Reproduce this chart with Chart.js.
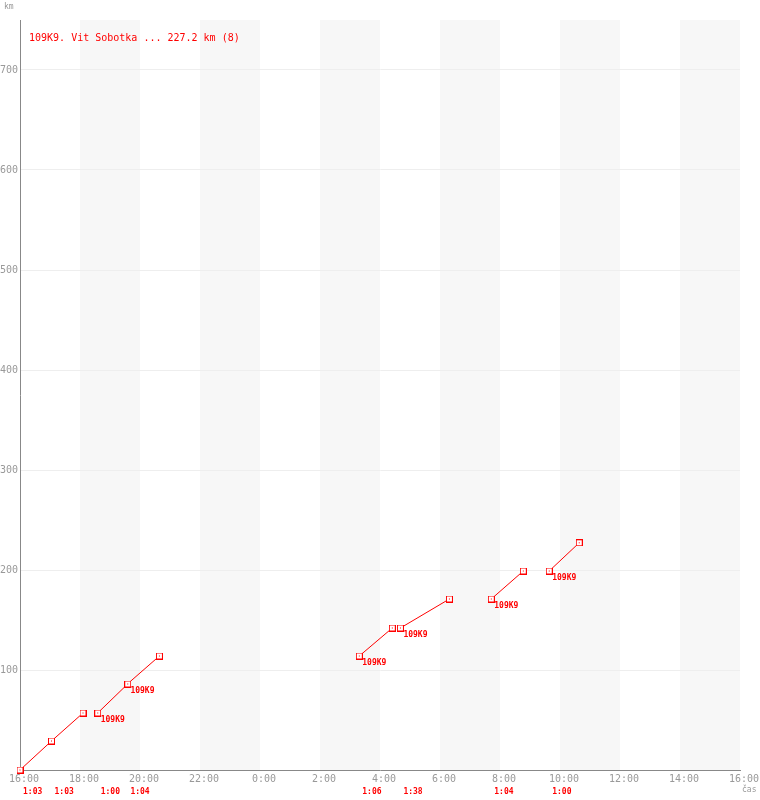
<!DOCTYPE html>
<html>
<head>
<meta charset="utf-8">
<script src="https://cdn.jsdelivr.net/npm/chart.js@4.4.1/dist/chart.umd.min.js"></script>
<style>
  html, body { margin: 0; padding: 0; background: #fff; }
  #wrap { width: 760px; height: 800px; }
</style>
</head>
<body>
<div id="wrap"><canvas id="chart" width="760" height="800"></canvas></div>
<script>
// ==================== DATA ====================
const teamCode = '109K9';
const teamName = 'Vit Sobotka';
const totalKm = '227.2';

// legs: start in hours after 16:00, duration, km at start / end
const legStart = [0, 1.05, 2.59, 3.58, 11.31, 12.68, 15.71, 17.64];
const legDuration = ['1:03', '1:03', '1:00', '1:04', '1:06', '1:38', '1:04', '1:00'];
const legKmFrom = [0, 29, 57, 86, 114, 142, 171, 199];
const legKmTo = [29, 57, 86, 114, 142, 171, 199, 227.2];
const legLabelled = [false, false, true, true, true, true, true, true];

const xTickHours = [0, 2, 4, 6, 8, 10, 12, 14, 16, 18, 20, 22, 24];
const xTickLabels = ['16:00', '18:00', '20:00', '22:00', '0:00', '2:00', '4:00',
                     '6:00', '8:00', '10:00', '12:00', '14:00', '16:00'];
const yTickValues = [0, 100, 200, 300, 400, 500, 600, 700];

// ==================== HELPERS ====================
function durHours(s) {
    const p = s.split(':');
    return Number(p[0]) + Number(p[1]) / 60;
}

// square marker with a dot in the middle
function makeMarker() {
    const c = document.createElement('canvas');
    c.width = 7;
    c.height = 7;
    const g = c.getContext('2d');
    g.fillStyle = '#fff';
    g.fillRect(0, 0, 7, 7);
    g.strokeStyle = '#ff0000';
    g.lineWidth = 1;
    g.strokeRect(0.5, 0.5, 6, 6);
    g.fillStyle = '#ff0000';
    g.fillRect(3, 3, 1, 1);
    return c;
}
const marker = makeMarker();

const datasets = legStart.map((s, i) => ({
    data: [
        { x: s, y: legKmFrom[i] },
        { x: s + durHours(legDuration[i]), y: legKmTo[i] }
    ],
    borderColor: '#ff0000',
    borderWidth: 1,
    pointStyle: marker,
    pointRadius: 3,
    pointHoverRadius: 3,
    tension: 0,
    fill: false,
    clip: false
}));

// ==================== PLUGINS ====================
const stripes = {
    id: 'stripes',
    beforeDraw(chart) {
        const { ctx, chartArea, scales } = chart;
        ctx.save();
        ctx.fillStyle = '#f7f7f7';
        for (let h = 2; h < 24; h += 4) {
            const x1 = scales.x.getPixelForValue(h);
            const x2 = scales.x.getPixelForValue(h + 2);
            ctx.fillRect(x1, chartArea.top, x2 - x1, chartArea.bottom - chartArea.top);
        }
        ctx.restore();
    }
};

const texts = {
    id: 'texts',
    afterDatasetsDraw(chart) {
        const { ctx, chartArea, scales } = chart;
        ctx.save();
        // title
        ctx.fillStyle = '#ff0000';
        ctx.font = '10px "DejaVu Sans Mono"';
        ctx.textBaseline = 'middle';
        ctx.textAlign = 'left';
        ctx.fillText(teamCode + '. ' + teamName + ' ... ' + totalKm + ' km (' + legStart.length + ')',
            chartArea.left + 9, chartArea.top + 18);

        // team labels + durations
        ctx.font = 'bold 8px "DejaVu Sans Mono"';
        legStart.forEach((s, i) => {
            const px = scales.x.getPixelForValue(s);
            const py = scales.y.getPixelForValue(legKmFrom[i]);
            if (legLabelled[i]) {
                ctx.fillText(teamCode, px + 3, py + 7);
            }
            ctx.fillText(legDuration[i], px + 3, chartArea.bottom + 22);
        });

        // axis names
        ctx.fillStyle = '#999';
        ctx.font = '8px "DejaVu Sans Mono"';
        ctx.fillText('km', 4, 7);
        ctx.fillText('čas', chartArea.right + 2, chartArea.bottom + 20);
        ctx.restore();
    }
};

// ==================== CHART ====================
new Chart(document.getElementById('chart'), {
    type: 'line',
    data: { datasets: datasets },
    options: {
        responsive: false,
        animation: false,
        layout: { padding: { top: 20, right: 20, left: 0, bottom: 0 } },
        plugins: {
            legend: { display: false },
            tooltip: { enabled: false }
        },
        scales: {
            x: {
                type: 'linear',
                min: 0,
                max: 24,
                afterBuildTicks: s => { s.ticks = xTickHours.map(v => ({ value: v })); },
                afterFit: s => { s.height = 30; },
                ticks: {
                    autoSkip: false,
                    maxRotation: 0,
                    padding: 3,
                    labelOffset: 4,
                    color: '#999',
                    font: { family: 'DejaVu Sans Mono', size: 10 },
                    callback: (v, i) => xTickLabels[i]
                },
                grid: { display: false, drawTicks: false, tickLength: 0 },
                border: { color: '#888', width: 1 }
            },
            y: {
                type: 'linear',
                min: 0,
                max: 750,
                afterBuildTicks: s => { s.ticks = yTickValues.map(v => ({ value: v })); },
                afterFit: s => { s.width = 20; },
                ticks: {
                    padding: 2,
                    color: '#999',
                    font: { family: 'DejaVu Sans Mono', size: 10 },
                    callback: v => (v === 0 ? '' : String(v))
                },
                grid: {
                    drawTicks: false,
                    tickLength: 0,
                    color: ctx => (ctx.tick && ctx.tick.value === 0 ? 'rgba(0,0,0,0)' : '#eeeeee')
                },
                border: { color: '#888', width: 1 }
            }
        }
    },
    plugins: [stripes, texts]
});
</script>
</body>
</html>
